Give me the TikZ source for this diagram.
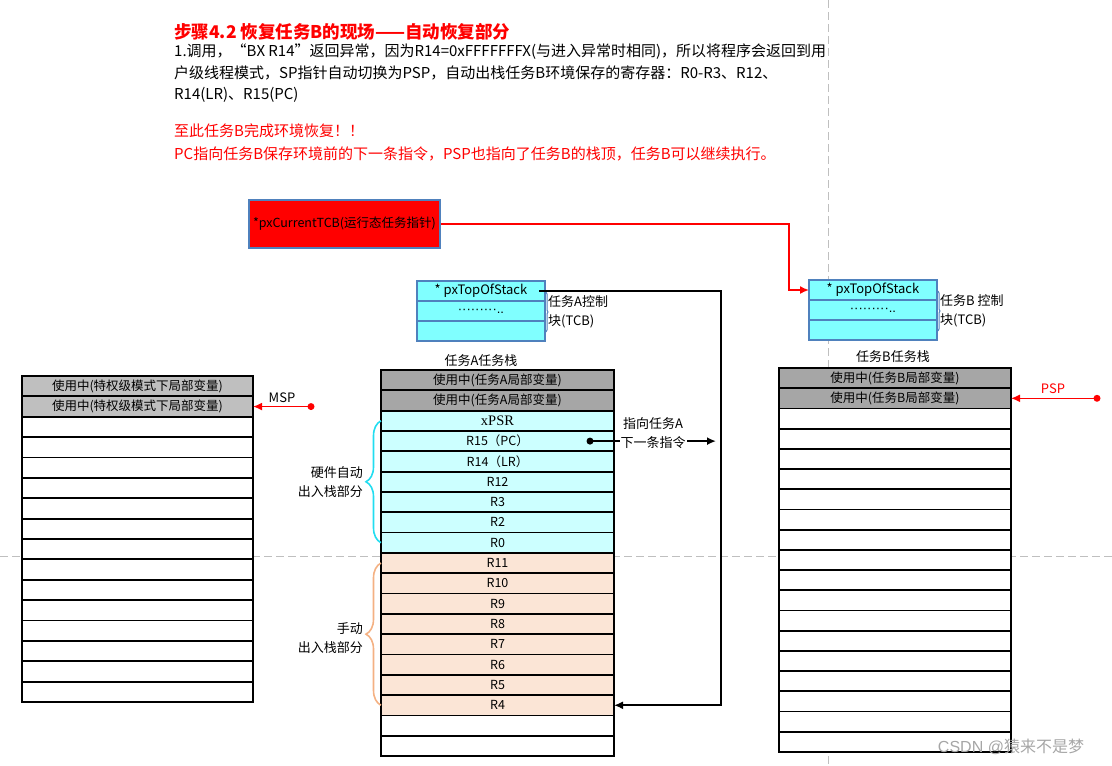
\documentclass[tikz,border=0pt]{standalone}
\usepackage{fontspec}
\setmainfont{Noto Sans CJK SC}
\newfontfamily\serif{Liberation Serif}
\newfontfamily\wmfont{Liberation Sans}
\usepackage{xcolor}
\usepackage{tikz}
\usetikzlibrary{arrows.meta,positioning,calc,decorations.pathreplacing}

\definecolor{mspgray}{HTML}{BFBFBF}
\definecolor{usedgray}{HTML}{A6A6A6}
\definecolor{hwcyan}{HTML}{CCFFFF}
\definecolor{swpeach}{HTML}{FBE5D6}
\definecolor{tcbcyan}{HTML}{80FFFF}
\definecolor{tcbline}{HTML}{4F81BD}
\definecolor{bracecyan}{HTML}{22DDF0}
\definecolor{braceorange}{HTML}{F4B183}
\definecolor{guidegray}{HTML}{BFBFBF}

\tikzset{
  cell/.style={draw,line width=1.8pt,inner sep=0pt,outer sep=0pt,
    font=\fontsize{12.5}{13}\selectfont},
  tcbcell/.style={draw=tcbline,fill=tcbcyan,line width=1.6pt,minimum width=128pt,
    minimum height=20pt,inner sep=0pt,outer sep=0pt,font=\fontsize{13}{13}\selectfont},
  lbl/.style={font=\fontsize{13}{18.5}\selectfont,inner sep=1pt},
  guide/.style={guidegray,dash pattern=on 8pt off 4pt,line width=0.8pt},
  regbrace/.style={decorate,decoration={brace,amplitude=15pt},line width=1.6pt},
}

\begin{document}
\begin{tikzpicture}[x=1pt,y=-1pt,>={Latex[length=9pt,width=8pt]}]
\useasboundingbox (0,0) rectangle (1112,766);
\draw[guide] (828,0) -- (828,766);
\draw[guide] (0,556) -- (1112,556);

\node[anchor=west,text=red,font=\bfseries\fontsize{17.5}{20}\selectfont,inner sep=0pt] (title) at (174,32) {步骤4.2 恢复任务B的现场——自动恢复部分};
\node[anchor=north west,align=left,font=\fontsize{15}{21.5}\selectfont,inner sep=0pt] (desc) at (174,44) {1.调用，“BX R14”返回异常，因为R14=0xFFFFFFFX(与进入异常时相同)，所以将程序会返回到用\\户级线程模式，SP指针自动切换为PSP，自动出栈任务B环境保存的寄存器：R0-R3、R12、\\R14(LR)、R15(PC)};
\node[anchor=north west,align=left,text=red,font=\fontsize{15}{23}\selectfont,inner sep=0pt] (note) at (174,124) {至此任务B完成环境恢复！！\\PC指向任务B保存环境前的下一条指令，PSP也指向了任务B的栈顶，任务B可以继续执行。};

\node[draw=tcbline,fill=red,line width=1.6pt,minimum width=191pt,minimum height=48pt,inner sep=0pt,
  font=\fontsize{12.5}{13}\selectfont] (cur) at (344.5,224) {*pxCurrentTCB(运行态任务指针)};

% TCB of task A and task B
\foreach \lab [count=\i] in {* pxTopOfStack,{\wmfont ·········..},{}}
  \node[tcbcell] (ta\i) at (481,{281+(\i-0.5)*20}) {\lab};
\foreach \lab [count=\i] in {* pxTopOfStack,{\wmfont ·········..},{}}
  \node[tcbcell] (tb\i) at (873,{280+(\i-0.5)*20}) {\lab};
\draw[tcbline,decorate,decoration={brace,amplitude=2pt},line width=1pt] (546,292) -- (546,332);
\draw[tcbline,decorate,decoration={brace,amplitude=2pt},line width=1pt] (938,291) -- (938,331);
\node[lbl,anchor=west,align=left] (tal) at (547,312) {任务A控制\\块(TCB)};
\node[lbl,anchor=west,align=left] (tbl) at (939,311) {任务B 控制\\块(TCB)};

% MSP stack
\foreach \lab/\fc [count=\i] in {{使用中(特权级模式下局部变量)}/mspgray,{使用中(特权级模式下局部变量)}/mspgray,
  {}/white,{}/white,{}/white,{}/white,{}/white,{}/white,{}/white,{}/white,{}/white,{}/white,{}/white,{}/white,{}/white,{}/white}
  \node[cell,minimum width=231pt,minimum height=20.375pt,fill=\fc] (m\i) at (137.5,{376+(\i-0.5)*20.375}) {\lab};

% task A stack
\node[lbl] (atitle) at (481,361) {任务A任务栈};
\foreach \lab/\fc [count=\i] in {{使用中(任务A局部变量)}/usedgray,{使用中(任务A局部变量)}/usedgray,
  {\serif\fontsize{14.5}{14}\selectfont xPSR}/hwcyan,R15（PC）/hwcyan,R14（LR）/hwcyan,R12/hwcyan,R3/hwcyan,R2/hwcyan,R0/hwcyan,
  R11/swpeach,R10/swpeach,R9/swpeach,R8/swpeach,R7/swpeach,R6/swpeach,R5/swpeach,R4/swpeach,{}/white,{}/white}
  \node[cell,minimum width=233pt,minimum height=20.32pt,fill=\fc] (a\i) at (497.5,{370+(\i-0.5)*20.32}) {\lab};

% task B stack
\node[lbl] (btitle) at (893,357) {任务B任务栈};
\foreach \lab/\fc [count=\i] in {{使用中(任务B局部变量)}/usedgray,{使用中(任务B局部变量)}/usedgray,
  {}/white,{}/white,{}/white,{}/white,{}/white,{}/white,{}/white,{}/white,{}/white,{}/white,{}/white,{}/white,{}/white,{}/white,{}/white,{}/white,{}/white}
  \node[cell,minimum width=232pt,minimum height=20.2pt,fill=\fc] (b\i) at (895,{368+(\i-0.5)*20.2}) {\lab};

\draw[regbrace,bracecyan] (a9.west) -- (a3.west);
\draw[regbrace,braceorange] (a17.west) -- (a10.west);
\node[lbl,anchor=east,align=right] (hwlbl) at (364,482) {硬件自动\\出入栈部分};
\node[lbl,anchor=east,align=right] (swlbl) at (364,638) {手动\\出入栈部分};

% pointers
\draw[red,line width=1.6pt,->] (cur.east) -| ([xshift=-20pt]tb1.west) -- (tb1.west);
\draw[line width=1.8pt,->] ([xshift=-6pt]ta1.east) -| ([xshift=107pt]a17.east) -- (a17.east);

\coordinate (pcdot) at ([xshift=-24pt]a4.east);
\coordinate (pcend) at ([xshift=102pt]a4.east);
\draw[line width=1.8pt,->] (pcdot) -- (pcend);
\fill (pcdot) circle (3.5);
\node[lbl,fill=white,align=center] (pclbl) at (653,433) {指向任务A\\下一条指令};

\coordinate (mspdot) at ([xshift=58pt]m2.east);
\draw[red,line width=1.6pt,->] (mspdot) -- (m2.east);
\fill[red] (mspdot) circle (3.5);
\node[lbl] (msplbl) at (282,398) {MSP};

\coordinate (pspdot) at ([xshift=86pt]b2.east);
\draw[red,line width=1.6pt,->] (pspdot) -- (b2.east);
\fill[red] (pspdot) circle (3.5);
\node[lbl,text=red] (psplbl) at (1053,389) {PSP};

\node[text=black!35,font=\wmfont\fontsize{16}{16}\selectfont] (wm) at (1011,747) {CSDN @\textrm{猿来不是梦}};
\end{tikzpicture}
\end{document}
